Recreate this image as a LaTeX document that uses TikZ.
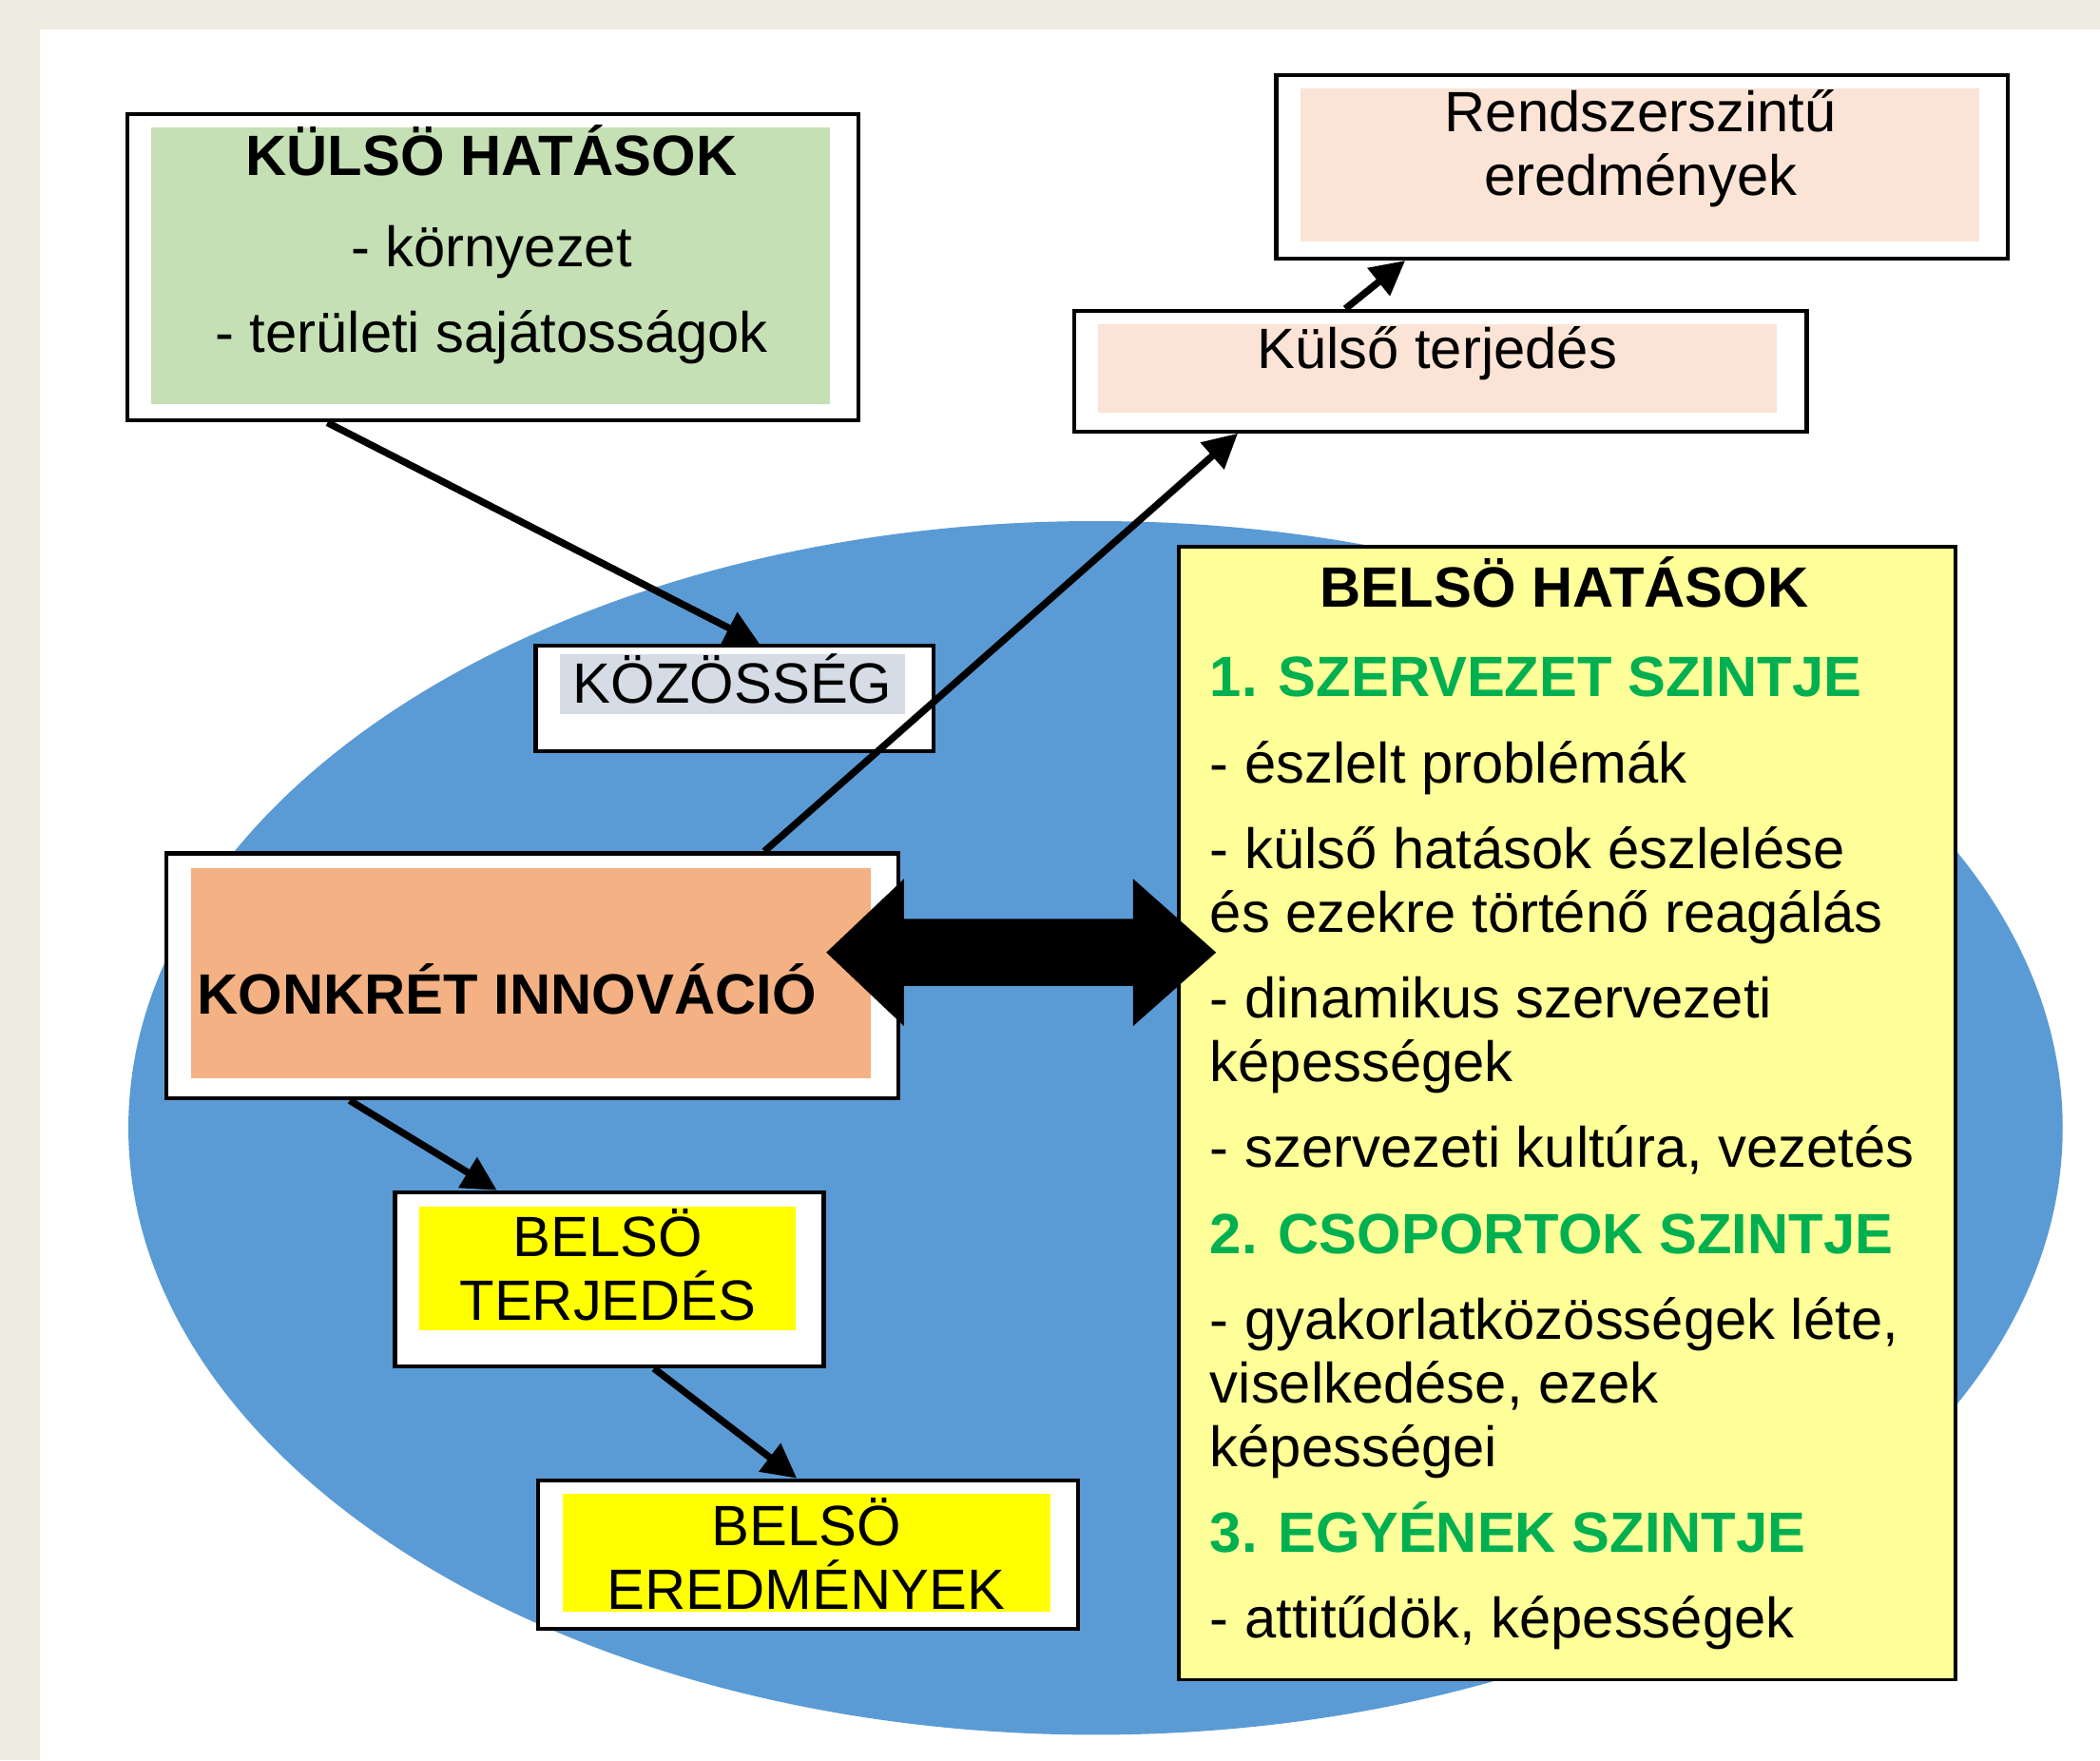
\documentclass[tikz,border=0pt]{standalone}
\usepackage{fontspec}
\setmainfont{Liberation Sans}
\usetikzlibrary{arrows.meta,calc,fit}
\definecolor{pagebg}{HTML}{EEECE1}
\definecolor{ellblue}{HTML}{5B9BD5}
\definecolor{kulsofill}{HTML}{C5E0B4}
\definecolor{peach}{HTML}{FBE4D6}
\definecolor{kozfill}{HTML}{D6DCE5}
\definecolor{konkretfill}{HTML}{F4B183}
\definecolor{belsofill}{HTML}{FFFF99}
\definecolor{terjfill}{HTML}{FFFF00}
\definecolor{lvlgreen}{HTML}{00B050}
\begin{document}
\begin{tikzpicture}[
    x=0.014088cm, y=-0.014088cm,
    every node/.style={font=\fontsize{17}{19}\selectfont, inner sep=0pt},
    outbox/.style={draw=black, line width=1.2pt, fill=white, inner sep=0pt},
    belsobox/.style={draw=black, line width=1pt, fill=belsofill, inner sep=0pt},
    title/.style={font=\fontsize{17}{19}\selectfont\bfseries},
    flow/.style={line width=2.1pt, -{Triangle[length=0.36cm, width=0.36cm]}}
]
\fill[pagebg] (0,0) rectangle (1568,1314);
\fill[white] (30,22) rectangle (1568,1314);
\fill[ellblue] (818,842) ellipse [x radius=10.17cm, y radius=6.38cm];

\node[outbox, fit={(95,85) (641,314)}] (kulso) {};
\fill[kulsofill] (113,95) rectangle (620,302);
\node[title, anchor=base] (kulsotitle) at (367,131) {KÜLSÖ HATÁSOK};
\node[anchor=base] (kornyezet) at (367,199) {- környezet};
\node[anchor=base] (teruleti) at (367,263) {- területi sajátosságok};

\node[outbox, fit={(953,56) (1499,193)}] (rendszer) {};
\fill[peach] (971,66) rectangle (1478,180);
\node[align=center] (rendszertext) at (1225,111) {Rendszerszintű\\eredmények};

\node[outbox, fit={(802,232) (1349,322)}] (kulsoterj) {};
\fill[peach] (820,242) rectangle (1327,308);
\node[anchor=base] (kulsoterjtext) at (1073,275) {Külső terjedés};

\node[outbox, fit={(400,482) (697,561)}] (kozosseg) {};
\fill[kozfill] (418,488) rectangle (676,533);
\node[anchor=base] (kozossegtext) at (547,525) {KÖZÖSSÉG};

\node[outbox, fit={(124,637) (671,820)}] (konkret) {};
\fill[konkretfill] (143,648) rectangle (650,805);
\node[title, anchor=base west] (konkrettext) at (147,757) {KONKRÉT INNOVÁCIÓ};

\node[outbox, fit={(295,890) (615,1020)}] (belsoterj) {};
\fill[terjfill] (313,901) rectangle (594,993);
\node[align=center] (belsoterjtext) at (454,944) {BELSÖ\\TERJEDÉS};

\node[outbox, fit={(402,1105) (805,1216)}] (belsoered) {};
\fill[terjfill] (420,1115) rectangle (784,1203);
\node[align=center] (belsoeredtext) at (602,1160) {BELSÖ\\EREDMÉNYEK};

\node[belsobox, fit={(880,408) (1460,1254)}] (belso) {};
\node[title, anchor=base] (belsotitle) at (1168,453) {BELSÖ HATÁSOK};
\node[anchor=north west, align=left] (belsotext) at (903,490) {%
\textcolor{lvlgreen}{\bfseries 1. SZERVEZET SZINTJE}\\[6.7pt]
- észlelt problémák\\[6.7pt]
- külső hatások észlelése\\
és ezekre történő reagálás\\[6.7pt]
- dinamikus szervezeti\\
képességek\\[6.7pt]
- szervezeti kultúra, vezetés\\[6.7pt]
\textcolor{lvlgreen}{\bfseries 2. CSOPORTOK SZINTJE}\\[6.7pt]
- gyakorlatközösségek léte,\\
viselkedése, ezek\\
képességei\\[6.7pt]
\textcolor{lvlgreen}{\bfseries 3. EGYÉNEK SZINTJE}\\[6.7pt]
- attitűdök, képességek};

\draw[flow] ($(kulso.south west)!.275!(kulso.south east)$) -- ($(kozosseg.north west)!.562!(kozosseg.north east)$);
\draw[flow] ($(konkret.north west)!.815!(konkret.north east)$) -- ($(kulsoterj.south west)!.225!(kulsoterj.south east)$);
\draw[flow] ($(kulsoterj.north west)!.371!(kulsoterj.north east)$) -- ($(rendszer.south west)!.178!(rendszer.south east)$);
\draw[flow] ($(konkret.south west)!.252!(konkret.south east)$) -- ($(belsoterj.north west)!.24!(belsoterj.north east)$);
\draw[flow] ($(belsoterj.south west)!.603!(belsoterj.south east)$) -- ($(belsoered.north west)!.479!(belsoered.north east)$);

\fill[black] (617,711) -- (675,656) -- (675,686) -- (846,686) -- (846,656) -- (908,711)
    -- (846,766) -- (846,736) -- (675,736) -- (675,766) -- cycle;
\end{tikzpicture}
\end{document}
